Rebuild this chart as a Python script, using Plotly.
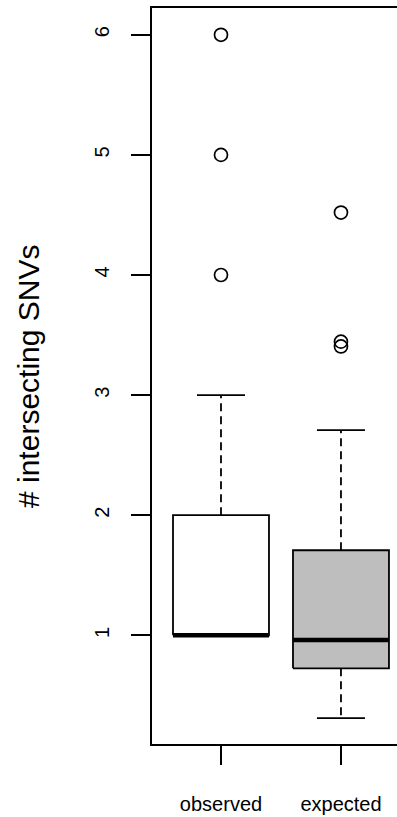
import plotly.graph_objects as go

# ---- data ----
groups = ["observed", "expected"]
group_pos = [1, 2]
lower_whisker = [1.0, 0.31]
q1 = [1.0, 0.725]
median = [1.0, 0.96]
q3 = [2.0, 1.708]
upper_whisker = [3.0, 2.708]
outliers = [[4.0, 5.0, 6.0], [4.52, 3.445, 3.405]]
fill_colors = ["#FFFFFF", "#BEBEBE"]
y_ticks = [1, 2, 3, 4, 5, 6]

BOX_HALF = 0.4
CAP_HALF = 0.2
FONT = "Liberation Sans, Arial, Helvetica, sans-serif"

fig = go.Figure()

for i, x in enumerate(group_pos):
    # box rectangle
    fig.add_trace(go.Scatter(
        x=[x - BOX_HALF, x + BOX_HALF, x + BOX_HALF, x - BOX_HALF, x - BOX_HALF],
        y=[q1[i], q1[i], q3[i], q3[i], q1[i]],
        mode="lines", fill="toself", fillcolor=fill_colors[i],
        line=dict(color="black", width=1.8), hoverinfo="skip", showlegend=False))
    # median
    fig.add_trace(go.Scatter(
        x=[x - BOX_HALF, x + BOX_HALF], y=[median[i], median[i]],
        mode="lines", line=dict(color="black", width=4.5),
        hoverinfo="skip", showlegend=False))
    # whiskers (dashed)
    fig.add_trace(go.Scatter(
        x=[x, x], y=[q3[i], upper_whisker[i]],
        mode="lines", line=dict(color="black", width=1.8, dash="8px,5px"),
        hoverinfo="skip", showlegend=False))
    fig.add_trace(go.Scatter(
        x=[x, x], y=[q1[i], lower_whisker[i]],
        mode="lines", line=dict(color="black", width=1.8, dash="8px,5px"),
        hoverinfo="skip", showlegend=False))
    # caps
    for v in (upper_whisker[i], lower_whisker[i]):
        fig.add_trace(go.Scatter(
            x=[x - CAP_HALF, x + CAP_HALF], y=[v, v],
            mode="lines", line=dict(color="black", width=1.8),
            hoverinfo="skip", showlegend=False))
    # outliers
    fig.add_trace(go.Scatter(
        x=[x] * len(outliers[i]), y=outliers[i],
        mode="markers",
        marker=dict(symbol="circle-open", size=13, color="black", line=dict(width=1.7)),
        hoverinfo="skip", showlegend=False))

fig.update_layout(
    width=397, height=817,
    margin=dict(l=152, r=0, t=8, b=73),
    plot_bgcolor="white", paper_bgcolor="white",
    font=dict(family=FONT, color="black", size=20),
    xaxis=dict(
        range=[0.425, 2.467], tickmode="array", tickvals=group_pos, ticktext=groups,
        showgrid=False, zeroline=False,
        showline=True, linecolor="black", linewidth=1.8, mirror=True,
        ticks="outside", ticklen=19, tickwidth=1.8, tickcolor="black",
        tickfont=dict(size=20, family=FONT), ticklabelstandoff=22),
    yaxis=dict(
        range=[0.095, 6.223], tickmode="array", tickvals=y_ticks,
        showgrid=False, zeroline=False,
        showline=True, linecolor="black", linewidth=1.8, mirror=False,
        ticks="outside", ticklen=19, tickwidth=1.8, tickcolor="black",
        tickangle=-90, tickfont=dict(size=20, family=FONT), ticklabelstandoff=14),
    annotations=[dict(
        text="# intersecting SNVs", textangle=-90,
        xref="paper", yref="paper", x=-(152 - 29) / 245, y=(744 - 377) / 736,
        xanchor="center", yanchor="middle", showarrow=False,
        font=dict(size=30, family=FONT, color="black"))],
)

fig.write_html("out.html", config={"displayModeBar": False},
               post_script="document.body.style.margin='0';document.body.style.overflow='hidden';")
